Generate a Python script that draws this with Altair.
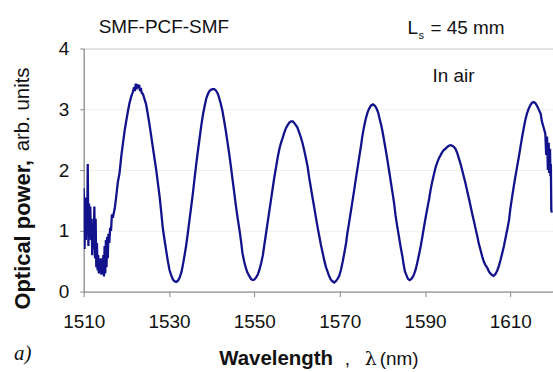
import altair as alt
import pandas as pd

# Wavelength (nm) and optical power (arb. units)
wavelength = [
    1510.0, 1510.2, 1510.35, 1510.5, 1510.65, 1510.8, 1510.95, 1511.1, 1511.25, 1511.4,
    1511.55, 1511.7, 1511.85, 1512.0, 1512.15, 1512.3, 1512.5, 1512.65, 1512.8, 1512.95,
    1513.1, 1513.25, 1513.4, 1513.55, 1513.7, 1513.85, 1514.0, 1514.15, 1514.3, 1514.45,
    1514.6, 1514.75, 1514.9, 1515.05, 1515.2, 1515.35, 1515.5, 1515.65, 1515.8, 1516.0,
    1516.2, 1516.4, 1516.6, 1516.9, 1517.3, 1517.6, 1518.0, 1518.4, 1518.8, 1519.2,
    1519.6, 1520.0, 1520.4, 1520.7, 1521.1, 1521.5, 1521.8, 1522.0, 1522.2, 1522.4,
    1522.6, 1522.8, 1523.0, 1523.2, 1523.4, 1523.6, 1523.9, 1524.2, 1524.6, 1525.0,
    1525.4, 1525.8, 1526.2, 1526.6, 1527.0, 1527.4, 1527.8, 1528.2, 1528.5, 1528.9,
    1529.3, 1529.7, 1530.1, 1530.5, 1530.9, 1531.3, 1531.7, 1532.1, 1532.5, 1532.9,
    1533.2, 1533.6, 1534.0, 1534.4, 1534.8, 1535.2, 1535.6, 1536.0, 1536.4, 1536.8,
    1537.2, 1537.6, 1538.0, 1538.4, 1538.7, 1539.1, 1539.5, 1539.8, 1540.2, 1540.6,
    1541.0, 1541.4, 1541.7, 1542.1, 1542.5, 1542.9, 1543.3, 1543.7, 1544.1, 1544.5,
    1544.9, 1545.3, 1545.7, 1546.1, 1546.5, 1546.9, 1547.2, 1547.6, 1548.0, 1548.4,
    1548.8, 1549.2, 1549.6, 1550.0, 1550.4, 1550.8, 1551.2, 1551.6, 1552.0, 1552.3,
    1552.7, 1553.1, 1553.5, 1553.9, 1554.3, 1554.7, 1555.1, 1555.5, 1555.9, 1556.3,
    1556.6, 1557.0, 1557.4, 1557.8, 1558.2, 1558.6, 1559.0, 1559.4, 1559.8, 1560.1,
    1560.5, 1560.9, 1561.3, 1561.7, 1562.1, 1562.5, 1562.8, 1563.2, 1563.6, 1564.0,
    1564.4, 1564.8, 1565.2, 1565.6, 1566.0, 1566.4, 1566.8, 1567.1, 1567.5, 1567.9,
    1568.3, 1568.7, 1569.1, 1569.5, 1569.9, 1570.3, 1570.7, 1571.1, 1571.5, 1571.8,
    1572.2, 1572.6, 1573.0, 1573.4, 1573.8, 1574.2, 1574.6, 1575.0, 1575.3, 1575.7,
    1576.1, 1576.5, 1576.9, 1577.3, 1577.8, 1578.2, 1578.6, 1579.0, 1579.3, 1579.7,
    1580.0, 1580.4, 1580.8, 1581.2, 1581.6, 1582.0, 1582.4, 1582.8, 1583.1, 1583.5,
    1583.9, 1584.3, 1584.7, 1585.0, 1585.3, 1585.6, 1586.0, 1586.4, 1586.8, 1587.2,
    1587.5, 1587.8, 1588.2, 1588.6, 1589.0, 1589.4, 1589.8, 1590.2, 1590.6, 1591.0,
    1591.3, 1591.7, 1592.1, 1592.5, 1592.9, 1593.3, 1593.7, 1594.0, 1594.4, 1594.8,
    1595.2, 1595.6, 1596.0, 1596.4, 1596.8, 1597.2, 1597.6, 1597.9, 1598.3, 1598.7,
    1599.1, 1599.5, 1599.9, 1600.3, 1600.7, 1601.1, 1601.5, 1601.9, 1602.3, 1602.6,
    1603.0, 1603.4, 1603.8, 1604.2, 1604.6, 1605.0, 1605.4, 1605.8, 1606.1, 1606.5,
    1606.9, 1607.3, 1607.7, 1608.1, 1608.5, 1608.9, 1609.3, 1609.7, 1610.0, 1610.4,
    1610.8, 1611.2, 1611.6, 1612.0, 1612.4, 1612.8, 1613.2, 1613.5, 1613.9, 1614.3,
    1614.7, 1615.1, 1615.5, 1615.9, 1616.3, 1616.7, 1617.1, 1617.4, 1617.8, 1618.2,
    1618.4, 1618.6, 1618.8, 1619.0, 1619.1, 1619.3, 1619.4, 1619.5, 1619.6, 1619.7,
]
power = [
    1.70, 0.70, 1.55, 0.85, 1.40, 0.95, 2.10, 0.75, 1.45, 0.90,
    1.40, 0.85, 1.20, 0.60, 1.05, 0.70, 1.40, 0.55, 1.20, 0.40,
    0.80, 0.35, 0.60, 0.30, 0.45, 0.30, 0.55, 0.28, 0.45, 0.30,
    0.60, 0.25, 0.75, 0.30, 0.85, 0.40, 0.90, 0.55, 0.95, 0.80,
    1.05, 1.00, 1.25, 1.24, 1.38, 1.55, 1.80, 1.95, 2.22, 2.44,
    2.65, 2.82, 2.98, 3.09, 3.20, 3.28, 3.36, 3.30, 3.42, 3.33,
    3.41, 3.35, 3.40, 3.30, 3.35, 3.27, 3.25, 3.18, 3.09, 2.93,
    2.76, 2.57, 2.38, 2.19, 2.00, 1.78, 1.56, 1.29, 1.07, 0.87,
    0.69, 0.51, 0.36, 0.27, 0.20, 0.17, 0.16, 0.18, 0.23, 0.32,
    0.42, 0.58, 0.75, 0.96, 1.18, 1.40, 1.62, 1.87, 2.11, 2.33,
    2.54, 2.75, 2.93, 3.07, 3.17, 3.25, 3.30, 3.32, 3.33, 3.33,
    3.31, 3.26, 3.20, 3.10, 2.98, 2.82, 2.65, 2.46, 2.27, 2.06,
    1.84, 1.62, 1.40, 1.20, 1.02, 0.82, 0.64, 0.50, 0.39, 0.31,
    0.26, 0.21, 0.19, 0.20, 0.23, 0.28, 0.36, 0.47, 0.60, 0.75,
    0.94, 1.13, 1.32, 1.51, 1.70, 1.89, 2.05, 2.22, 2.36, 2.46,
    2.52, 2.61, 2.69, 2.74, 2.78, 2.80, 2.80, 2.77, 2.73, 2.70,
    2.62, 2.54, 2.44, 2.32, 2.19, 2.05, 1.90, 1.73, 1.56, 1.40,
    1.23, 1.07, 0.92, 0.77, 0.64, 0.51, 0.40, 0.34, 0.26, 0.20,
    0.17, 0.15, 0.17, 0.21, 0.26, 0.36, 0.49, 0.64, 0.80, 0.96,
    1.13, 1.31, 1.49, 1.67, 1.86, 2.04, 2.22, 2.40, 2.55, 2.71,
    2.84, 2.94, 3.01, 3.06, 3.08, 3.06, 3.02, 2.95, 2.86, 2.75,
    2.65, 2.49, 2.33, 2.16, 1.98, 1.80, 1.62, 1.43, 1.25, 1.07,
    0.90, 0.73, 0.58, 0.44, 0.33, 0.28, 0.21, 0.19, 0.21, 0.25,
    0.30, 0.36, 0.48, 0.61, 0.75, 0.91, 1.08, 1.24, 1.39, 1.54,
    1.67, 1.81, 1.93, 2.05, 2.13, 2.20, 2.25, 2.29, 2.33, 2.35,
    2.38, 2.40, 2.41, 2.40, 2.38, 2.34, 2.27, 2.20, 2.11, 2.00,
    1.89, 1.78, 1.65, 1.53, 1.40, 1.27, 1.15, 1.02, 0.90, 0.79,
    0.69, 0.58, 0.49, 0.43, 0.39, 0.33, 0.29, 0.27, 0.26, 0.29,
    0.34, 0.42, 0.52, 0.63, 0.75, 0.89, 1.03, 1.18, 1.36, 1.55,
    1.73, 1.90, 2.06, 2.22, 2.39, 2.56, 2.71, 2.82, 2.93, 3.01,
    3.07, 3.11, 3.12, 3.10, 3.05, 2.99, 2.93, 2.80, 2.70, 2.60,
    2.25, 2.55, 2.00, 2.45, 1.95, 2.35, 1.90, 2.10, 1.35, 1.30,
]

x_ticks = [1510, 1530, 1550, 1570, 1590, 1610]
y_ticks = [0, 1, 2, 3, 4]

title_left = "SMF-PCF-SMF"
title_right_main = "L"
title_right_sub = "s"
title_right_rest = "= 45 mm"
medium_label = "In air"
panel_label = "a)"
x_title_bold = "Wavelength"
x_title_parts = [",", "λ", "(nm)"]
y_title_bold = "Optical power,"
y_title_regular = "arb. units"

FONT = "Liberation Sans"
LINE_COLOR = "#12128c"

df = pd.DataFrame({"wavelength": wavelength, "power": power})

line = alt.Chart(df).mark_line(color=LINE_COLOR, strokeWidth=2.3, clip=True).encode(
    x=alt.X(
        "wavelength:Q",
        scale=alt.Scale(domain=[1510, 1620], nice=False, zero=False),
        axis=alt.Axis(
            values=x_ticks, grid=False, title=None, format="d",
            labelFontSize=19, labelFont=FONT, labelColor="#111",
            labelPadding=16, tickSize=5, tickColor="#888", domainColor="#888",
            labelFlush=False,
        ),
    ),
    y=alt.Y(
        "power:Q",
        scale=alt.Scale(domain=[0, 4], nice=False),
        axis=alt.Axis(
            values=y_ticks, grid=True, gridColor="#efefef", title=None,
            labelFontSize=19, labelFont=FONT, labelColor="#111",
            labelPadding=11, tickSize=4, tickColor="#888", domainColor="#888",
        ),
    ),
)


def txt(label, x, y, size=19, weight="normal", angle=0, align="left",
        font=FONT, style="normal", baseline="middle"):
    return alt.Chart(pd.DataFrame({"t": [label]})).mark_text(
        fontSize=size, fontWeight=weight, angle=angle, align=align,
        font=font, fontStyle=style, baseline=baseline, color="#111",
    ).encode(x=alt.value(x), y=alt.value(y), text="t:N")


layers = [
    line,
    txt(title_left, 15, -22),
    txt(title_right_main, 325, -21),
    txt(title_right_sub, 336, -13, size=11),
    txt(title_right_rest, 348, -21),
    txt(medium_label, 350, 28),
    txt(panel_label, -70, 307, size=21, font="Liberation Serif", style="italic"),
    txt(x_title_bold, 136, 312, size=20.5, weight="bold"),
    txt(x_title_parts[0], 262, 312, size=19),
    txt(x_title_parts[1], 282, 312, size=19, font="DejaVu Serif"),
    txt(x_title_parts[2], 297, 312, size=19),
    txt(y_title_bold, -61, 262, size=22, weight="bold", angle=270),
    txt(y_title_regular, -61, 19, size=20.5, angle=270, align="right"),
]

chart = alt.layer(*layers).properties(
    width=471,
    height=244,
    autosize=alt.AutoSizeParams(type="none"),
    padding={"left": 84, "top": 48, "right": 0, "bottom": 80},
    background="white",
).configure_view(stroke="#b0b0b0", strokeWidth=1)

chart.save("out.html", embed_options={"renderer": "svg", "actions": False})
